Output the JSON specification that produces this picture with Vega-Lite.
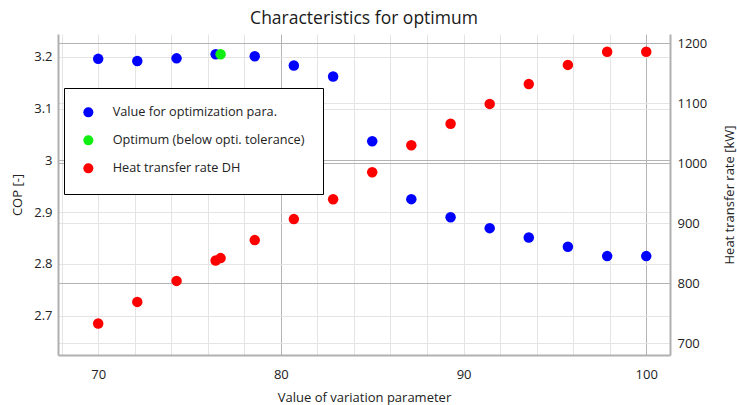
{
  "$schema": "https://vega.github.io/schema/vega-lite/v6.json",
  "width": 612,
  "height": 321,
  "autosize": "none",
  "padding": {"left": 58, "top": 34, "right": 67, "bottom": 50},
  "title": {"text": "Characteristics for optimum", "fontSize": 17.5, "fontWeight": "normal", "color": "#1a1a1a", "anchor": "middle", "offset": 7},
  "config": {
    "font": "Open Sans",
    "view": {"stroke": null},
    "axis": {"labelFontSize": 13, "titleFontSize": 13, "titleFontWeight": "normal", "labelColor": "#222", "titleColor": "#222", "ticks": false, "domainColor": "#b0b0b0", "domainWidth": 2, "grid": true, "gridWidth": 1}
  },
  "datasets": {
    "cop": [
      {"x": 70, "cop": 3.196, "series": "Value for optimization para."},
      {"x": 72.14, "cop": 3.192, "series": "Value for optimization para."},
      {"x": 74.29, "cop": 3.197, "series": "Value for optimization para."},
      {"x": 76.43, "cop": 3.205, "series": "Value for optimization para."},
      {"x": 78.57, "cop": 3.201, "series": "Value for optimization para."},
      {"x": 80.71, "cop": 3.183, "series": "Value for optimization para."},
      {"x": 82.86, "cop": 3.162, "series": "Value for optimization para."},
      {"x": 85, "cop": 3.037, "series": "Value for optimization para."},
      {"x": 87.14, "cop": 2.925, "series": "Value for optimization para."},
      {"x": 89.29, "cop": 2.89, "series": "Value for optimization para."},
      {"x": 91.43, "cop": 2.869, "series": "Value for optimization para."},
      {"x": 93.57, "cop": 2.851, "series": "Value for optimization para."},
      {"x": 95.71, "cop": 2.833, "series": "Value for optimization para."},
      {"x": 97.86, "cop": 2.815, "series": "Value for optimization para."},
      {"x": 100, "cop": 2.815, "series": "Value for optimization para."},
      {"x": 76.7, "cop": 3.205, "series": "Optimum (below opti. tolerance)"}
    ],
    "heat": [
      {"x": 70, "q": 733, "series": "Heat transfer rate DH"},
      {"x": 72.14, "q": 769, "series": "Heat transfer rate DH"},
      {"x": 74.29, "q": 804, "series": "Heat transfer rate DH"},
      {"x": 76.43, "q": 838, "series": "Heat transfer rate DH"},
      {"x": 76.7, "q": 842, "series": "Heat transfer rate DH"},
      {"x": 78.57, "q": 872, "series": "Heat transfer rate DH"},
      {"x": 80.71, "q": 907, "series": "Heat transfer rate DH"},
      {"x": 82.86, "q": 940, "series": "Heat transfer rate DH"},
      {"x": 85, "q": 985, "series": "Heat transfer rate DH"},
      {"x": 87.14, "q": 1030, "series": "Heat transfer rate DH"},
      {"x": 89.29, "q": 1066, "series": "Heat transfer rate DH"},
      {"x": 91.43, "q": 1099, "series": "Heat transfer rate DH"},
      {"x": 93.57, "q": 1132, "series": "Heat transfer rate DH"},
      {"x": 95.71, "q": 1164, "series": "Heat transfer rate DH"},
      {"x": 97.86, "q": 1186, "series": "Heat transfer rate DH"},
      {"x": 100, "q": 1186, "series": "Heat transfer rate DH"}
    ]
  },
  "encoding": {
    "x": {
      "field": "x", "type": "quantitative",
      "scale": {"domain": [67.8, 101.3], "nice": false, "zero": false},
      "axis": {
        "title": "Value of variation parameter",
        "values": [68, 70, 72, 74, 76, 78, 80, 82, 84, 86, 88, 90, 92, 94, 96, 98, 100],
        "labelExpr": "datum.value % 10 === 0 ? datum.label : ''",
        "labelPadding": 13, "titlePadding": 10,
        "gridColor": {"condition": {"test": "datum.value % 20 === 0", "value": "#b4b4b4"}, "value": "#e4e4e4"}
      }
    },
    "color": {
      "field": "series", "type": "nominal",
      "scale": {
        "domain": ["Value for optimization para.", "Optimum (below opti. tolerance)", "Heat transfer rate DH"],
        "range": ["#0000ff", "#11ee11", "#ff0000"]
      },
      "legend": {
        "title": null, "orient": "none", "legendX": 6, "legendY": 54,
        "strokeColor": "#000", "fillColor": "#fff", "padding": 18,
        "symbolType": "circle", "symbolSize": 100, "symbolStrokeWidth": 0,
        "labelFontSize": 12.7, "labelColor": "#222", "labelOffset": 18, "rowPadding": 14, "labelLimit": 400
      }
    }
  },
  "layer": [
    {
      "data": {"name": "cop"},
      "mark": {"type": "point", "filled": true, "opacity": 1, "size": 110},
      "encoding": {
        "y": {
          "field": "cop", "type": "quantitative",
          "scale": {"domain": [2.624, 3.244], "nice": false, "zero": false},
          "axis": {
            "title": "COP [-]", "orient": "left", "grid": true,
            "values": [2.7, 2.8, 2.9, 3, 3.1, 3.2], "format": "~g",
            "labelPadding": 6, "titlePadding": 9,
            "gridColor": {"condition": {"test": "datum.value === 3", "value": "#b4b4b4"}, "value": "#e4e4e4"}
          }
        }
      }
    },
    {
      "data": {"name": "heat"},
      "mark": {"type": "point", "filled": true, "opacity": 1, "size": 110},
      "encoding": {
        "y": {
          "field": "q", "type": "quantitative",
          "scale": {"domain": [680.5, 1215.5], "nice": false, "zero": false},
          "axis": {
            "title": "Heat transfer rate [kW]", "orient": "right", "grid": true,
            "values": [700, 800, 900, 1000, 1100, 1200], "format": "d",
            "labelPadding": 7, "titlePadding": 30, "titleAngle": 270,
            "gridColor": {"condition": {"test": "datum.value % 200 === 0", "value": "#b4b4b4"}, "value": "#e4e4e4"}
          }
        }
      }
    }
  ],
  "resolve": {"scale": {"y": "independent"}}
}
